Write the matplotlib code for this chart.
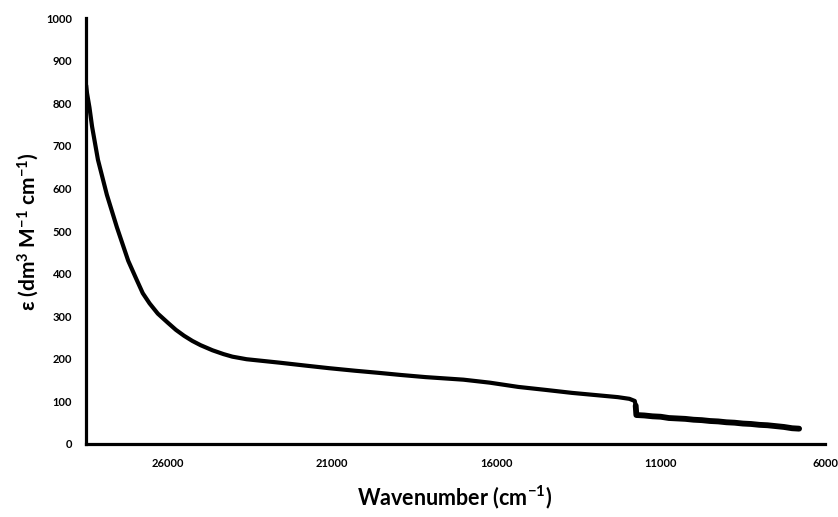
import matplotlib
matplotlib.use("Agg")
import matplotlib.pyplot as plt

# wavenumber (cm-1) and molar absorptivity
wavenumber = [28480, 28455, 28380, 28300, 28121, 27850, 27546, 27200, 26958,
              26758, 26550, 26300, 26000, 25750, 25500, 25250, 25000, 24637,
              24300, 24030, 23600, 22606, 21800, 21091, 20300, 19576, 18900,
              18152, 17000, 16200, 15333, 14500, 13700, 13000, 12303, 11950,
              11788, 11760]
epsilon = [842, 824, 790, 745, 667, 585, 509, 430, 388,
           354, 330, 306, 285, 268, 254, 242, 232, 220,
           211, 205, 199, 191, 184, 178, 172, 167, 162,
           157, 151, 144, 134, 127, 120, 115, 110, 106,
           101, 90]

# noisier part after the detector change
wavenumber_nir = [11760, 11740, 11500, 11250, 11000, 10750, 10500, 10250,
                  10000, 9750, 9500, 9250, 9000, 8750, 8500, 8250, 8000, 7750,
                  7500, 7250, 7000, 6788]
epsilon_nir = [90, 68, 67, 65, 64, 61, 60, 59,
               57, 56, 54, 53, 51, 50, 48, 47, 45, 44,
               42, 40, 37, 36]

xticks = [26000, 21000, 16000, 11000, 6000]
yticks = list(range(0, 1001, 100))

plt.rcParams['font.family'] = ['Lato', 'DejaVu Sans']
plt.rcParams['mathtext.default'] = 'regular'

fig = plt.figure(figsize=(8.38, 5.17), dpi=100)
ax = fig.add_axes([86 / 838, 73 / 517, 739 / 838, 426 / 517])

ax.plot(wavenumber, epsilon, color='black', lw=3.0, solid_capstyle='round',
        solid_joinstyle='round')
ax.plot(wavenumber_nir, epsilon_nir, color='black', lw=4.2,
        solid_capstyle='round', solid_joinstyle='round')

ax.set_xlim(28485, 6000)
ax.set_ylim(0, 1000)
ax.set_xticks(xticks)
ax.set_yticks(yticks)
ax.tick_params(length=0, labelsize=8, pad=10)
for lab in ax.get_xticklabels() + ax.get_yticklabels():
    lab.set_fontweight('bold')

for side in ['top', 'right']:
    ax.spines[side].set_visible(False)
for side in ['left', 'bottom']:
    ax.spines[side].set_linewidth(2.3)
    ax.spines[side].set_color('black')

fig.text(455 / 838, 1 - 497 / 517, 'Wavenumber (cm$^{-1}$)', fontsize=15.5,
         fontweight='bold', ha='center', va='center')
fig.text(28 / 838, 1 - 232 / 517, 'ε (dm$^{3}$ M$^{-1}$ cm$^{-1}$)', fontsize=15,
         fontweight='bold', ha='center', va='center', rotation=90)

fig.savefig('out.png', dpi=100)
